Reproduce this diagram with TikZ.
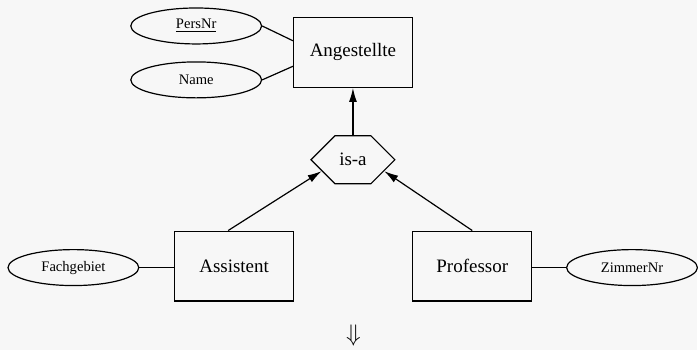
\documentclass[tikz,border=0pt]{standalone}
\usepackage{amsmath}
\usepackage{amssymb}
\usepackage{fontspec}
\setmainfont{Liberation Serif}
\usepackage{tikz}
\usetikzlibrary{shapes.geometric,shapes.symbols,arrows.meta,calc}

\begin{document}
\begin{tikzpicture}[x=0.5pt, y=-0.5pt,
    entidad/.style={rectangle, draw, line width=0.6pt, inner sep=0pt,
        minimum width=59.5pt, minimum height=35pt, font=\fontsize{9.5}{11}\selectfont},
    atributo/.style={ellipse, draw, line width=0.6pt, inner sep=0pt,
        minimum width=65.5pt, minimum height=18pt, font=\fontsize{7.3}{9}\selectfont},
    isabox/.style={signal, signal to=west and east, draw, line width=0.6pt, inner sep=0pt,
        minimum width=42pt, minimum height=24pt, font=\fontsize{9.5}{11}\selectfont},
    linea/.style={line width=0.6pt},
    flecha/.style={line width=0.6pt, -{Latex[length=7pt,width=4pt]}}]
    % Fondo
    \fill[white!97!black] (0,0) rectangle (698,351);

    % Definición de los nodos
    \node[entidad] (ang) at (353.5, 52.5) {Angestellte};
    \node[atributo] (pers) at (196.5, 26) {\underline{PersNr}};
    \node[atributo] (name) at (196.5, 80) {Name};
    \node[isabox] (isa) at (353.5, 160) {is-a};
    \node[entidad] (asst) at (234.5, 266.5) {Assistent};
    \node[entidad] (prof) at (473, 266.5) {Professor};
    \node[atributo] (fach) at (73.5, 268) {Fachgebiet};
    \node[atributo] (zimmer) at (633, 268) {ZimmerNr};
    \node[font=\fontsize{13}{15}\selectfont] (pfeil) at (354, 336) {$\Downarrow$};

    % Definición de las aristas
    \draw[linea] (pers.east) -- (ang.169);
    \draw[linea] (name.east) -- (ang.193);
    \draw[linea] (fach.east) -- (fach.east -| asst.west);
    \draw[linea] (prof.east |- zimmer.west) -- (zimmer.west);
    \draw[flecha] (isa.north) -- (ang.south);
    \draw[flecha] ([xshift=-3pt]asst.north) -- (isa.200);
    \draw[flecha] (prof.north) -- (isa.-20);
\end{tikzpicture}
\end{document}
